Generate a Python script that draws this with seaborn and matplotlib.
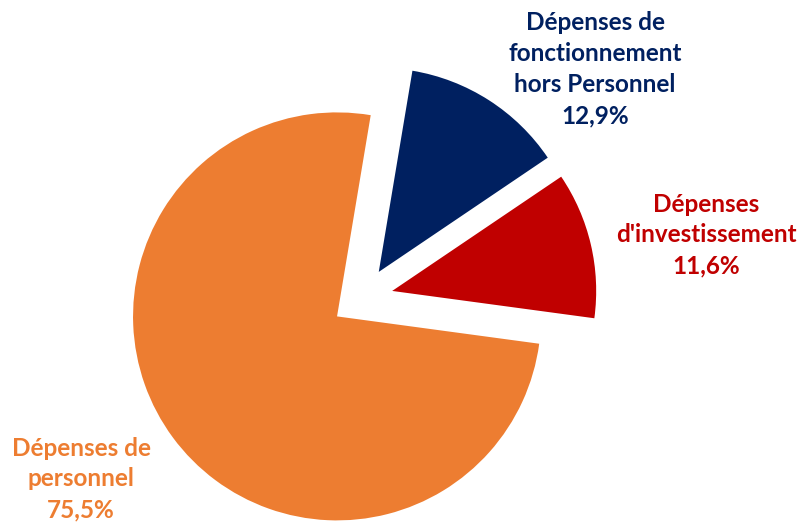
import matplotlib
matplotlib.use("Agg")
import matplotlib.pyplot as plt
import seaborn as sns

categories = ["Dépenses de\nfonctionnement\nhors Personnel", "Dépenses\nd'investissement", "Dépenses de\npersonnel"]
values = [12.9, 11.6, 75.5]
value_labels = ["12,9%", "11,6%", "75,5%"]
colors = ["#002060", "#C00000", "#ED7D31"]

sns.set_theme(style="white")
plt.rcParams["font.family"] = ["Lato", "DejaVu Sans"]

W, H = 801, 522
fig = plt.figure(figsize=(W / 100, H / 100), dpi=100)
ax = fig.add_axes([0, 0, 1, 1])

R = 204
ax.pie(values, colors=colors, startangle=80.5, counterclock=False,
       center=(362, H - 298), radius=R, explode=[31, 31, 31],
       wedgeprops=dict(linewidth=0))
ax.set_xlim(0, W)
ax.set_ylim(0, H)
ax.set_aspect("equal")
ax.axis("off")

label_pos = [(595, H - 69), (706, H - 235), (81, H - 479)]
for cat, val, col, (x, y) in zip(categories, value_labels, colors, label_pos):
    ax.text(x, y, f"{cat}\n{val}", color=col, ha="center", va="center",
            fontsize=17.5, fontweight="bold", linespacing=1.42)

fig.savefig("out.png", dpi=100)
